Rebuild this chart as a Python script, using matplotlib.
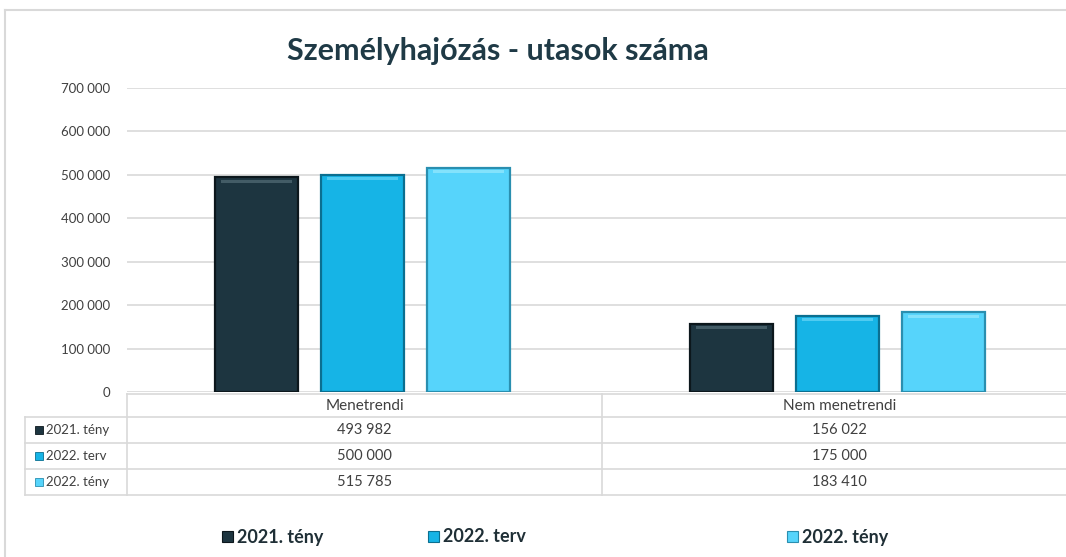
import matplotlib.pyplot as plt
from matplotlib.patches import Rectangle
from matplotlib.lines import Line2D
from matplotlib.ticker import FuncFormatter

plt.rcParams['font.family'] = ['Lato', 'DejaVu Sans']

# adatok
categories = ['Menetrendi', 'Nem menetrendi']
series = ['2021. tény', '2022. terv', '2022. tény']
v2021_teny = [493982, 156022]
v2022_terv = [500000, 175000]
v2022_teny = [515785, 183410]
values = [v2021_teny, v2022_terv, v2022_teny]

colors = ['#1d3540', '#16b4e6', '#56d4fb']
edges = ['#0c171c', '#0b6f90', '#2a8fb0']
tops = ['#4d6670', '#5fd2f5', '#8fe6fd']
txt = '#404040'
grid_c = '#d9d9d9'

W, H = 1066, 557
fig = plt.figure(figsize=(W / 100, H / 100), dpi=100)

def fx(px):
    return px / W

def fy(py):
    return 1 - py / H

# keret
fig.add_artist(Line2D([fx(5), 1], [fy(10), fy(10)], color=grid_c, lw=1.5))
fig.add_artist(Line2D([fx(5), fx(5)], [fy(10), 0], color=grid_c, lw=1.5))

ax = fig.add_axes([fx(127), fy(392), fx(1077) - fx(127), fy(88) - fy(392)])
ax.set_xlim(-0.5, 1.5)
ax.set_ylim(0, 700000)
ax.set_yticks(range(0, 700001, 100000))
ax.yaxis.set_major_formatter(FuncFormatter(lambda v, p: f'{int(v):,}'.replace(',', ' ')))
ax.tick_params(axis='y', length=0, labelsize=9.5, labelcolor=txt, pad=12)
ax.set_xticks([])
for s in ax.spines.values():
    s.set_visible(False)
ax.grid(axis='y', color=grid_c, lw=1.2)
ax.set_axisbelow(True)

offsets = [-0.227, -0.004, 0.219]
width = 0.175
for i, vals in enumerate(values):
    xs = [c + offsets[i] for c in range(len(categories))]
    ax.bar(xs, vals, width=width, color=colors[i], edgecolor=edges[i], lw=1.6, zorder=3)
    # világosabb felső perem (bevel hatás)
    ax.bar(xs, [7000] * len(vals), bottom=[v - 12000 for v in vals], width=width * 0.86,
           color=tops[i], lw=0, zorder=4, alpha=0.8)

ax.set_title('Személyhajózás - utasok száma', fontsize=22, fontweight='bold',
             color='#1f3a46', x=(498 - 127) / 950, pad=20)

# adattábla
col_x = [25, 127, 602, 1077]
row_y = [394, 417, 443, 469, 495]
lw_t = 1.2
fig.add_artist(Line2D([fx(127), 1], [fy(row_y[0])] * 2, color=grid_c, lw=lw_t))
for y in row_y[1:]:
    fig.add_artist(Line2D([fx(25), 1], [fy(y)] * 2, color=grid_c, lw=lw_t))
fig.add_artist(Line2D([fx(25)] * 2, [fy(row_y[1]), fy(row_y[-1])], color=grid_c, lw=lw_t))
for x in col_x[1:3]:
    fig.add_artist(Line2D([fx(x)] * 2, [fy(row_y[0]), fy(row_y[-1])], color=grid_c, lw=lw_t))

for j, cat in enumerate(categories):
    cx = (col_x[j + 1] + col_x[j + 2]) / 2
    fig.text(fx(cx), fy((row_y[0] + row_y[1]) / 2), cat, ha='center', va='center',
             fontsize=11, color=txt)
    for i, vals in enumerate(values):
        fig.text(fx(cx), fy((row_y[i + 1] + row_y[i + 2]) / 2),
                 f'{vals[j]:,}'.replace(',', ' '), ha='center', va='center',
                 fontsize=10.5, color=txt)

for i, name in enumerate(series):
    yc = (row_y[i + 1] + row_y[i + 2]) / 2
    fig.add_artist(Rectangle((fx(35), fy(yc + 4)), fx(8), fy(0) - fy(8),
                             facecolor=colors[i], edgecolor=edges[i], lw=0.6))
    fig.text(fx(46), fy(yc), name, ha='left', va='center', fontsize=9.5, color=txt)

# jelmagyarázat
leg_x = [222, 428, 787]
for i, name in enumerate(series):
    fig.add_artist(Rectangle((fx(leg_x[i]), fy(542)), fx(11), fy(0) - fy(11),
                             facecolor=colors[i], edgecolor=edges[i], lw=0.8))
    fig.text(fx(leg_x[i] + 15), fy(537), name, ha='left', va='center', fontsize=13,
             fontweight='bold', color='#1f2f36')

fig.savefig('out.png', dpi=100)
